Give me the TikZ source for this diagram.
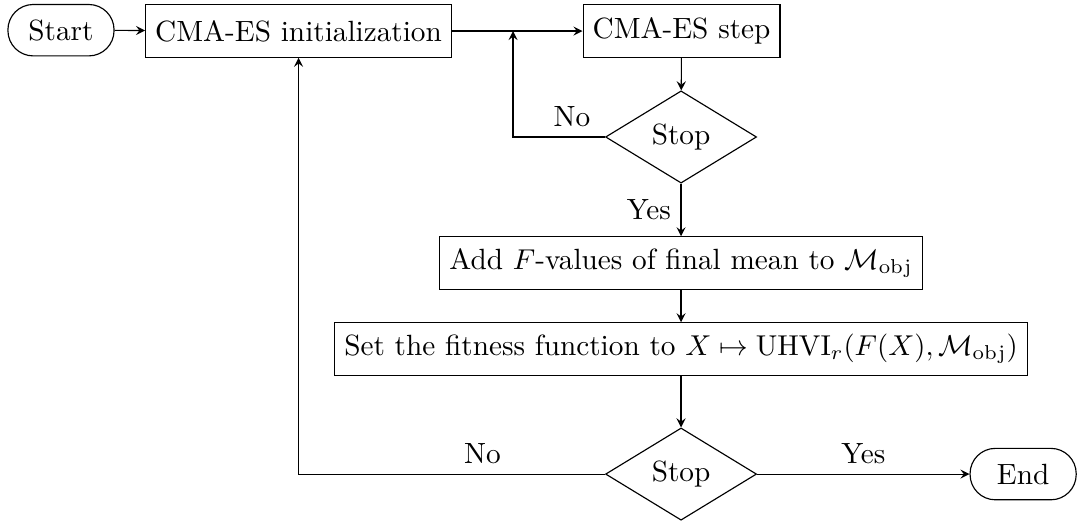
\documentclass[tikz,border=0pt]{standalone}
\tikzset{
  every node/.style={font=\fontsize{10.2}{12.2}\selectfont},
  box/.style={draw, rectangle, minimum height=0.64cm},
  term/.style={draw, rectangle, rounded corners=0.31cm, minimum height=0.63cm, minimum width=1.3cm},
  decision/.style={draw, diamond, inner sep=0pt, minimum width=1.85cm, minimum height=1.13cm}
}
\usetikzlibrary{shapes.geometric}
\begin{document}
\begin{tikzpicture}[>=stealth]
      \useasboundingbox (0,0) rectangle (13.29,-6.42);
      \draw
        (0.747,-0.37) node[term] (start){Start}
        (3.657,-0.38) node[box] (init){CMA-ES initialization}
        (8.348,-0.38) node[box] (esstep){CMA-ES step}
        (8.342,-1.678) node[decision] (stop1){Stop}
        (8.342,-3.222) node[box] (add){Add $F$-values of final mean to $\mathcal{M}_{\mathrm{obj}}$}
        (8.342,-4.275) node[box] (fit){Set the fitness function to $X \mapsto \mathrm{UHVI}_r(F(X), \mathcal{M}_{\mathrm{obj}})$}
        (8.342,-5.807) node[decision] (stop2){Stop}
        (12.532,-5.807) node[term] (finish){End};
      \coordinate (loop) at (6.284,-0.38);
      \begin{scope}[->]
        \draw (start) to (init);
        \draw (init) to (esstep);
        \draw (esstep) to (stop1);
        \draw (stop1.west) -| node[above, pos=0.18] {No} (loop);
        \draw (stop1) to node[left] {Yes} (add);
        \draw (add) to (fit);
        \draw (fit) to (stop2);
        \draw (stop2) to node[above] {Yes} (finish);
        \draw (stop2.west) -| node[above, pos=0.2] {No} (init.south);
      \end{scope}
    \end{tikzpicture}
\end{document}
